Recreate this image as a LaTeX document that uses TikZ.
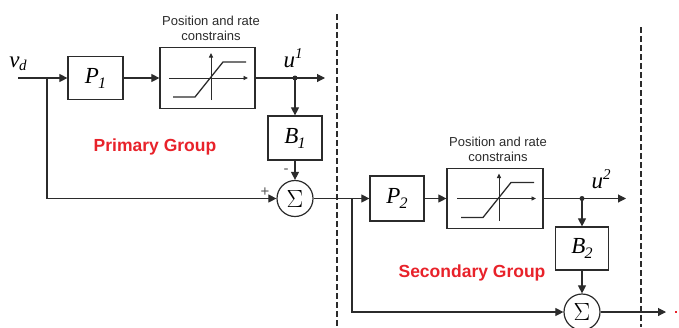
\documentclass[tikz,border=0pt]{standalone}
\usepackage{fontspec}
\setmainfont{Liberation Serif}
\newfontfamily\arial{Liberation Sans}
\usetikzlibrary{arrows.meta,calc}
\definecolor{ln}{HTML}{2B2B2B}
\definecolor{grp}{HTML}{E8222A}
\newcommand{\blk}[2]{{\fontsize{23}{24}\selectfont\itshape #1\kern-1pt\raisebox{-5pt}{\fontsize{16}{16}\selectfont #2}}}
\newcommand{\supl}[2]{{\fontsize{23}{24}\selectfont\itshape #1\raisebox{9pt}{\fontsize{15}{15}\selectfont #2}}}
\begin{document}
\begin{tikzpicture}[x=1pt,y=-1pt,
  line width=1.1pt, draw=ln,
  box/.style={draw=ln, line width=1.2pt, rectangle, inner sep=0pt, minimum width=#1},
  sumnode/.style={draw=ln, line width=1.2pt, circle, minimum size=36pt, inner sep=0pt, font=\fontsize{24}{24}\selectfont},
  sig/.style={draw=ln, line width=1.1pt, -{Triangle[length=8pt,width=8pt]}},
  ax/.style={draw=ln, line width=0.9pt, -{Triangle[length=4.5pt,width=4pt]}},
  captxt/.style={font=\arial\fontsize{13}{15}\selectfont, align=center, text=ln},
  grplbl/.style={font=\arial\bfseries\fontsize{17.5}{20}\selectfont, text=grp},
  sgn/.style={font=\arial\fontsize{15}{15}\selectfont, text=ln!80},
  dot/.style={circle, fill=ln, inner sep=0pt, minimum size=5pt},
  sep/.style={draw=ln, line width=1.3pt, dash pattern=on 6pt off 3pt}
]
\useasboundingbox (0,0) rectangle (679,327);

% separators
\coordinate (d1t) at (337,14);
\coordinate (d1b) at (337,327);
\coordinate (d2t) at (641,27);
\coordinate (d2b) at (641,327);
\draw[sep] (d1t) -- (d1b);
\draw[sep] (d2t) -- (d2b);

% ---------- primary ----------
\coordinate (vin) at (18,78);
\coordinate (bp1) at (47,78);
\node[box=55pt, minimum height=43pt] (P1) at (95.5,78) {\blk{P}{1}};
\node[box=95pt, minimum height=61pt] (C1) at (207.5,78) {};
\coordinate (o1) at (211,78);
\draw[ax] ($(o1)+(-42,0)$) -- ($(o1)+(37,0)$);
\draw[ax] ($(o1)+(0,22)$) -- ($(o1)+(0,-25)$);
\draw[line width=1.3pt] ($(o1)+(-38,19)$) -- ($(o1)+(-16,19)$) -- ($(o1)+(12,-16)$) -- ($(o1)+(35,-16)$);
\node[captxt] (cap1) at (211,28.5) {Position and rate\\constrains};
\node (vd) at (18,64) {\fontsize{23}{24}\selectfont\itshape v\kern-0.5pt\raisebox{-3pt}{\fontsize{15}{15}\selectfont d}};
\node[dot] (j1) at (295,78) {};
\coordinate (out1) at (325,78);
\node (u1) at (293,58) {\supl{u}{1}};
\node[box=54pt, minimum height=44pt] (B1) at (295,138) {\blk{B}{1}};
\node[sumnode] (S1) at (295,198.5) {$\Sigma$};
\node[sgn] (minus1) at (286,171) {-};
\node[sgn] (plus1) at (265,192) {+};
\node[grplbl] (pg) at (155,147) {Primary Group};

\draw[sig] (vin) -- (P1.west);
\draw[sig] (P1.east) -- (C1.west);
\draw[sig] (C1.east) -- (out1);
\draw[sig] (j1.center) -- (B1.north);
\draw[sig] (B1.south) -- (S1.north);
\draw[sig] (bp1) |- (S1.west);

% ---------- secondary ----------
\coordinate (bp2) at (352,198.5);
\node[box=54pt, minimum height=45pt] (P2) at (397,198.5) {\blk{P}{2}};
\node[box=96pt, minimum height=60pt] (C2) at (495,198.5) {};
\coordinate (o2) at (499,198.5);
\draw[ax] ($(o2)+(-42,0)$) -- ($(o2)+(37,0)$);
\draw[ax] ($(o2)+(0,22)$) -- ($(o2)+(0,-25)$);
\draw[line width=1.3pt] ($(o2)+(-38,19)$) -- ($(o2)+(-16,19)$) -- ($(o2)+(12,-16)$) -- ($(o2)+(35,-16)$);
\node[captxt] (cap2) at (498,149.5) {Position and rate\\constrains};
\node[dot] (j2) at (582,198.5) {};
\coordinate (out2) at (626,198.5);
\node (u2) at (601,179) {\supl{u}{2}};
\node[box=53pt, minimum height=43pt] (B2) at (582,248.5) {\blk{B}{2}};
\node[sumnode] (S2) at (582,312) {$\Sigma$};
\coordinate (out3) at (666,312);
\node[grplbl] (sg) at (472,273) {Secondary Group};
\node[fill=grp, inner sep=0pt, minimum width=2.5pt, minimum height=2.5pt] (rd) at (676,312) {};

\draw[line width=1.1pt] (S1.east) -- (bp2);
\draw[sig] (bp2) -- (P2.west);
\draw[sig] (P2.east) -- (C2.west);
\draw[sig] (C2.east) -- (out2);
\draw[sig] (j2.center) -- (B2.north);
\draw[sig] (B2.south) -- (S2.north);
\draw[sig] (bp2) |- (S2.west);
\draw[sig] (S2.east) -- (out3);
\end{tikzpicture}
\end{document}
